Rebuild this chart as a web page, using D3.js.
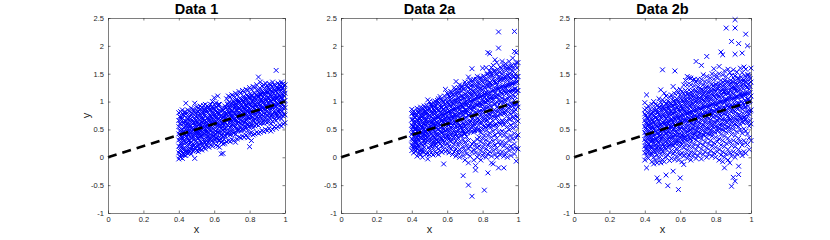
<!DOCTYPE html>
<html>
<head>
<meta charset="utf-8">
<script src="https://cdn.jsdelivr.net/npm/d3@7"></script>
<style>
  body { margin: 0; background: #fff; }
  text { font-family: "Liberation Sans", Arial, sans-serif; }
</style>
</head>
<body>
<svg id="svg" width="830" height="240"></svg>
<script>
// panel titles
const TITLES = ['Data 1', 'Data 2a', 'Data 2b']

// tick labels
const X_TICKS = [0, 0.2, 0.4, 0.6, 0.8, 1]
const Y_TICKS = [-1, -0.5, 0, 0.5, 1, 1.5, 2, 2.5]

// reference line y = x
const LINE_X = [0, 1]
const LINE_Y = [0, 1]

// scatter values, one row per x: [x, [y, y, ...]]
const data1 = [
  [0.40, [-0.03, 0.08, 0.2, 0.31, 0.42, 0.55, 0.66, 0.8]],
  [0.41, [0.0, 0.14, 0.25, 0.37, 0.48, 0.6, 0.72, 0.82]],
  [0.42, [-0.02, 0.1, 0.22, 0.35, 0.45, 0.51, 0.7, 0.85]],
  [0.43, [0.04, 0.17, 0.29, 0.4, 0.53, 0.62, 0.75, 0.8]],
  [0.44, [0.03, 0.12, 0.26, 0.38, 0.5, 0.64, 0.78, 0.97]],
  [0.45, [0.07, 0.19, 0.33, 0.44, 0.56, 0.69, 0.85]],
  [0.46, [0.08, 0.23, 0.3, 0.47, 0.58, 0.71, 0.83]],
  [0.47, [0.06, 0.15, 0.28, 0.41, 0.52, 0.63, 0.76, 0.88]],
  [0.48, [0.11, 0.24, 0.36, 0.49, 0.6, 0.73, 0.86]],
  [0.49, [-0.02, 0.18, 0.32, 0.43, 0.57, 0.68, 0.8, 0.97]],
  [0.50, [0.12, 0.26, 0.39, 0.5, 0.62, 0.74, 0.9]],
  [0.51, [0.1, 0.21, 0.34, 0.46, 0.59, 0.7, 0.82, 0.88]],
  [0.52, [0.16, 0.3, 0.42, 0.54, 0.66, 0.78, 0.92]],
  [0.53, [0.13, 0.25, 0.37, 0.51, 0.63, 0.72, 0.84, 0.9]],
  [0.54, [0.18, 0.32, 0.45, 0.56, 0.69, 0.8, 0.93]],
  [0.55, [0.15, 0.27, 0.4, 0.52, 0.61, 0.75, 0.87, 0.95]],
  [0.56, [0.2, 0.35, 0.47, 0.58, 0.7, 0.83, 0.92]],
  [0.57, [0.18, 0.29, 0.43, 0.55, 0.65, 0.77, 0.9]],
  [0.58, [0.22, 0.36, 0.49, 0.6, 0.73, 0.85, 0.95]],
  [0.59, [0.2, 0.31, 0.44, 0.57, 0.67, 0.8, 0.91, 1.0]],
  [0.60, [0.25, 0.38, 0.5, 0.63, 0.74, 0.86, 1.07]],
  [0.61, [0.22, 0.34, 0.47, 0.59, 0.71, 0.83, 0.98]],
  [0.62, [0.2, 0.33, 0.45, 0.56, 0.69, 0.82, 0.93, 1.1]],
  [0.63, [0.18, 0.3, 0.43, 0.55, 0.66, 0.78, 0.95]],
  [0.64, [0.06, 0.27, 0.4, 0.52, 0.63, 0.75, 0.88]],
  [0.65, [0.07, 0.24, 0.37, 0.49, 0.6, 0.72, 0.85]],
  [0.66, [0.25, 0.39, 0.51, 0.62, 0.74, 0.92]],
  [0.67, [0.28, 0.42, 0.54, 0.67, 0.78, 0.9, 1.05]],
  [0.68, [0.3, 0.44, 0.57, 0.69, 0.81, 0.96, 1.1]],
  [0.69, [0.28, 0.4, 0.53, 0.65, 0.77, 0.88, 1.08]],
  [0.70, [0.32, 0.46, 0.59, 0.71, 0.83, 0.97, 1.12]],
  [0.71, [0.3, 0.43, 0.56, 0.68, 0.8, 0.93, 1.1]],
  [0.72, [0.27, 0.41, 0.55, 0.66, 0.79, 0.91, 1.02, 1.15]],
  [0.73, [0.33, 0.48, 0.61, 0.73, 0.85, 0.98, 1.12]],
  [0.74, [0.36, 0.5, 0.63, 0.75, 0.88, 1.01, 1.18]],
  [0.75, [0.35, 0.47, 0.6, 0.72, 0.84, 0.95, 1.15]],
  [0.76, [0.38, 0.52, 0.65, 0.77, 0.9, 1.04, 1.2]],
  [0.77, [0.36, 0.49, 0.62, 0.74, 0.86, 0.99, 1.17]],
  [0.78, [0.4, 0.54, 0.67, 0.79, 0.92, 1.06, 1.22]],
  [0.79, [0.35, 0.48, 0.6, 0.73, 0.85, 0.97, 1.09, 1.2]],
  [0.80, [0.19, 0.42, 0.56, 0.69, 0.81, 0.94, 1.08, 1.25]],
  [0.81, [0.3, 0.45, 0.58, 0.71, 0.83, 0.96, 1.1, 1.22]],
  [0.82, [0.4, 0.53, 0.66, 0.78, 0.9, 1.03, 1.27]],
  [0.83, [0.42, 0.56, 0.69, 0.8, 0.93, 1.07, 1.25]],
  [0.84, [0.45, 0.59, 0.72, 0.85, 0.98, 1.12, 1.3]],
  [0.85, [0.43, 0.57, 0.7, 0.82, 0.95, 1.09, 1.22, 1.44]],
  [0.86, [0.45, 0.6, 0.74, 0.87, 1.0, 1.14, 1.35]],
  [0.87, [0.48, 0.62, 0.76, 0.88, 1.01, 1.15, 1.28]],
  [0.88, [0.46, 0.61, 0.73, 0.86, 0.99, 1.12, 1.3]],
  [0.89, [0.5, 0.64, 0.78, 0.91, 1.04, 1.18, 1.33]],
  [0.90, [0.48, 0.62, 0.75, 0.89, 1.02, 1.16, 1.28]],
  [0.91, [0.52, 0.66, 0.8, 0.93, 1.06, 1.2, 1.32]],
  [0.92, [0.47, 0.6, 0.74, 0.87, 1.0, 1.13, 1.3]],
  [0.93, [0.5, 0.64, 0.77, 0.9, 1.04, 1.17, 1.35]],
  [0.94, [0.55, 0.68, 0.81, 0.95, 1.08, 1.21, 1.3]],
  [0.95, [0.52, 0.66, 0.79, 0.92, 1.05, 1.19, 1.56]],
  [0.96, [0.55, 0.7, 0.83, 0.96, 1.09, 1.22, 1.33]],
  [0.97, [0.58, 0.72, 0.85, 0.98, 1.1, 1.23, 1.3]],
  [0.98, [0.56, 0.69, 0.82, 0.95, 1.07, 1.2, 1.35]],
  [0.99, [0.6, 0.74, 0.88, 1.0, 1.13, 1.25, 1.32]],
  [1.00, [0.62, 0.76, 0.89, 1.02, 1.15, 1.3]]
]

// more Data 1 points, read between the columns above
const fill1 = [
  [0.405, [0.35, 0.12, 0.6, 0.47, 0.02, 0.73]],
  [0.415, [0.5, 0.27, 0.68, 0.05, 0.39, 0.19]],
  [0.425, [0.44, 0.61, 0.15, 0.33, 0.76, 0.07]],
  [0.435, [0.28, 0.55, 0.1, 0.66, 0.42, 0.82]],
  [0.445, [0.6, 0.21, 0.47, 0.36, 0.09, 0.71]],
  [0.455, [0.3, 0.52, 0.14, 0.77, 0.41, 0.63]],
  [0.465, [0.45, 0.25, 0.69, 0.11, 0.57, 0.36]],
  [0.475, [0.53, 0.34, 0.79, 0.18, 0.46, 0.67]],
  [0.485, [0.4, 0.62, 0.22, 0.84, 0.51, 0.13]],
  [0.495, [0.58, 0.29, 0.47, 0.73, 0.16, 0.66]],
  [0.505, [0.43, 0.65, 0.2, 0.55, 0.82, 0.34]],
  [0.515, [0.6, 0.37, 0.75, 0.23, 0.49, 0.15]],
  [0.525, [0.47, 0.7, 0.28, 0.58, 0.86, 0.38]],
  [0.535, [0.62, 0.4, 0.78, 0.21, 0.53, 0.69]],
  [0.545, [0.5, 0.27, 0.66, 0.84, 0.43, 0.59]],
  [0.555, [0.64, 0.45, 0.81, 0.3, 0.56, 0.22]],
  [0.565, [0.52, 0.71, 0.38, 0.88, 0.6, 0.27]],
  [0.575, [0.67, 0.48, 0.84, 0.33, 0.58, 0.75]],
  [0.585, [0.55, 0.73, 0.4, 0.9, 0.63, 0.29]],
  [0.595, [0.7, 0.51, 0.87, 0.37, 0.6, 0.79]],
  [0.605, [0.58, 0.77, 0.42, 0.93, 0.66, 0.31]],
  [0.615, [0.72, 0.5, 0.89, 0.36, 0.62, 0.8]],
  [0.625, [0.6, 0.79, 0.44, 0.95, 0.68, 0.3]],
  [0.635, [0.65, 0.47, 0.83, 0.34, 0.56, 0.74]],
  [0.645, [0.55, 0.71, 0.4, 0.86, 0.62, 0.28]],
  [0.655, [0.63, 0.46, 0.8, 0.32, 0.57, 0.72]],
  [0.665, [0.7, 0.52, 0.88, 0.38, 0.62, 0.79]],
  [0.675, [0.76, 0.58, 0.95, 0.43, 0.67, 0.86]],
  [0.685, [0.8, 0.62, 0.99, 0.47, 0.71, 0.89]],
  [0.695, [0.74, 0.56, 0.93, 0.41, 0.66, 0.84]],
  [0.705, [0.82, 0.64, 1.01, 0.5, 0.74, 0.91]],
  [0.715, [0.78, 0.6, 0.97, 0.45, 0.69, 0.88]],
  [0.725, [0.85, 0.67, 1.04, 0.52, 0.76, 0.94]],
  [0.735, [0.8, 0.63, 0.99, 0.48, 0.71, 0.9]],
  [0.745, [0.88, 0.7, 1.06, 0.55, 0.79, 0.97]],
  [0.755, [0.83, 0.65, 1.02, 0.5, 0.74, 0.93]],
  [0.765, [0.9, 0.72, 1.09, 0.58, 0.81, 1.0]],
  [0.775, [0.86, 0.68, 1.05, 0.53, 0.77, 0.95]],
  [0.785, [0.93, 0.75, 1.12, 0.6, 0.84, 1.02]],
  [0.795, [0.88, 0.7, 1.07, 0.55, 0.79, 0.98]],
  [0.805, [0.95, 0.77, 1.14, 0.62, 0.86, 1.05]],
  [0.815, [0.9, 0.72, 1.1, 0.57, 0.81, 1.0]],
  [0.825, [0.97, 0.8, 1.16, 0.65, 0.88, 1.07]],
  [0.835, [0.93, 0.75, 1.12, 0.6, 0.84, 1.03]],
  [0.845, [1.0, 0.82, 1.19, 0.67, 0.91, 1.1]],
  [0.855, [0.96, 0.78, 1.15, 0.63, 0.87, 1.06]],
  [0.865, [1.03, 0.85, 1.22, 0.7, 0.94, 1.12]],
  [0.875, [0.98, 0.8, 1.17, 0.65, 0.89, 1.08]],
  [0.885, [1.05, 0.87, 1.24, 0.72, 0.96, 1.15]],
  [0.895, [1.0, 0.82, 1.19, 0.67, 0.91, 1.1]],
  [0.905, [1.07, 0.89, 1.26, 0.74, 0.98, 1.17]],
  [0.915, [1.02, 0.84, 1.21, 0.7, 0.93, 1.12]],
  [0.925, [1.09, 0.91, 1.27, 0.77, 1.0, 1.19]],
  [0.935, [1.04, 0.86, 1.23, 0.72, 0.95, 1.14]],
  [0.945, [1.11, 0.93, 1.29, 0.79, 1.02, 1.2]],
  [0.955, [1.06, 0.88, 1.25, 0.74, 0.97, 1.16]],
  [0.965, [1.12, 0.95, 1.3, 0.81, 1.04, 1.22]],
  [0.975, [1.08, 0.9, 1.27, 0.76, 0.99, 1.18]],
  [0.985, [1.14, 0.96, 1.31, 0.83, 1.05, 1.23]],
  [0.995, [1.1, 0.92, 1.28, 0.78, 1.01, 1.2]]
]

const data2a = [
  [0.40, [0.12, 0.22, 0.33, 0.41, 0.5, 0.58, 0.67, 0.78, 0.86]],
  [0.41, [0.08, 0.18, 0.28, 0.38, 0.46, 0.55, 0.63, 0.74, 0.83]],
  [0.42, [0.1, 0.2, 0.31, 0.43, 0.52, 0.6, 0.71, 0.8]],
  [0.43, [0.02, 0.15, 0.25, 0.36, 0.47, 0.57, 0.68, 0.77, 0.88]],
  [0.44, [0.07, 0.19, 0.3, 0.4, 0.49, 0.59, 0.7, 0.82]],
  [0.45, [0.05, 0.13, 0.26, 0.37, 0.45, 0.55, 0.66, 0.75, 0.9]],
  [0.46, [0.0, 0.1, 0.22, 0.34, 0.44, 0.53, 0.62, 0.73, 0.85]],
  [0.47, [0.09, 0.18, 0.29, 0.42, 0.51, 0.6, 0.69, 0.8, 0.92]],
  [0.48, [0.06, 0.28, 0.38, 0.47, 0.57, 0.67, 0.78, 0.88]],
  [0.49, [-0.03, 0.07, 0.3, 0.41, 0.5, 0.61, 0.72, 0.84, 1.03]],
  [0.50, [0.05, 0.14, 0.33, 0.45, 0.54, 0.64, 0.75, 0.87, 1.0]],
  [0.51, [0.08, 0.2, 0.31, 0.42, 0.52, 0.62, 0.73, 0.83, 0.95]],
  [0.52, [0.04, 0.16, 0.27, 0.39, 0.5, 0.6, 0.7, 0.81, 0.93]],
  [0.53, [0.1, 0.22, 0.35, 0.46, 0.56, 0.66, 0.78, 0.9, 1.01]],
  [0.54, [0.07, 0.18, 0.3, 0.41, 0.53, 0.63, 0.74, 0.86, 0.97]],
  [0.55, [0.05, 0.15, 0.28, 0.4, 0.5, 0.61, 0.72, 0.85, 1.05]],
  [0.56, [0.12, 0.24, 0.36, 0.47, 0.58, 0.69, 0.8, 0.92, 1.09]],
  [0.57, [0.09, 0.2, 0.33, 0.44, 0.55, 0.67, 0.79, 0.9, 1.02]],
  [0.58, [-0.12, 0.14, 0.27, 0.39, 0.5, 0.62, 0.74, 0.86, 0.99]],
  [0.59, [0.1, 0.22, 0.35, 0.48, 0.6, 0.71, 0.83, 0.96, 1.22]],
  [0.60, [0.13, 0.25, 0.38, 0.5, 0.62, 0.75, 0.88, 1.0, 1.15]],
  [0.61, [0.08, 0.2, 0.33, 0.46, 0.58, 0.7, 0.83, 0.95, 1.1]],
  [0.62, [0.15, 0.28, 0.4, 0.53, 0.65, 0.78, 0.9, 1.04, 1.18]],
  [0.63, [0.05, 0.18, 0.31, 0.44, 0.57, 0.69, 0.82, 0.96, 1.12]],
  [0.64, [0.1, 0.24, 0.37, 0.5, 0.62, 0.76, 0.89, 1.02, 1.25]],
  [0.65, [0.02, 0.15, 0.29, 0.42, 0.56, 0.7, 0.84, 0.98, 1.13, 1.36]],
  [0.66, [0.08, 0.22, 0.35, 0.49, 0.63, 0.77, 0.91, 1.06, 1.2]],
  [0.67, [0.0, 0.14, 0.28, 0.43, 0.57, 0.71, 0.86, 1.0, 1.15, 1.3]],
  [0.68, [0.1, 0.25, 0.39, 0.53, 0.67, 0.81, 0.95, 1.1, 1.25]],
  [0.69, [-0.33, 0.03, 0.18, 0.32, 0.47, 0.61, 0.76, 0.9, 1.05, 1.22]],
  [0.70, [-0.05, 0.12, 0.27, 0.42, 0.56, 0.7, 0.85, 0.99, 1.14, 1.35]],
  [0.71, [0.06, 0.21, 0.37, 0.5, 0.64, 0.8, 0.94, 1.08, 1.28]],
  [0.72, [-0.5, -0.1, 0.15, 0.3, 0.47, 0.6, 0.75, 0.89, 1.03, 1.18, 1.44]],
  [0.73, [0.02, 0.19, 0.5, 0.63, 0.78, 0.92, 1.07, 1.22, 1.38]],
  [0.74, [-0.7, 0.1, 0.24, 0.55, 0.69, 0.84, 0.98, 1.13, 1.3, 1.59]],
  [0.75, [-0.05, 0.14, 0.28, 0.45, 0.6, 0.74, 0.89, 1.04, 1.2, 1.4]],
  [0.76, [-0.15, -0.23, 0.08, 0.22, 0.52, 0.66, 0.81, 0.96, 1.12, 1.28]],
  [0.77, [0.0, 0.17, 0.32, 0.48, 0.63, 0.78, 0.94, 1.1, 1.26, 1.45]],
  [0.78, [0.05, 0.2, 0.36, 0.51, 0.67, 0.82, 0.98, 1.14, 1.32]],
  [0.79, [-0.05, 0.12, 0.28, 0.44, 0.6, 0.76, 0.92, 1.08, 1.24, 1.42]],
  [0.80, [0.03, 0.18, 0.34, 0.5, 0.66, 0.82, 0.99, 1.16, 1.34, 1.6]],
  [0.81, [-0.59, 0.08, 0.24, 0.4, 0.57, 0.73, 0.9, 1.07, 1.25, 1.45]],
  [0.82, [0.0, 0.15, 0.31, 0.48, 0.65, 0.82, 0.99, 1.17, 1.36, 1.61]],
  [0.83, [-0.28, 0.06, 0.22, 0.39, 0.56, 0.73, 0.9, 1.08, 1.27, 1.5, 1.88]],
  [0.84, [0.1, 0.27, 0.44, 0.61, 0.79, 0.97, 1.15, 1.34, 1.55, 1.86]],
  [0.85, [-0.1, 0.02, 0.19, 0.36, 0.54, 0.72, 0.9, 1.09, 1.28, 1.48, 1.61]],
  [0.86, [-0.12, 0.12, 0.29, 0.47, 0.65, 0.83, 1.02, 1.21, 1.41, 1.65]],
  [0.87, [0.05, 0.22, 0.4, 0.58, 0.77, 0.96, 1.15, 1.35, 1.56, 1.75]],
  [0.88, [0.0, 0.16, 0.34, 0.52, 0.71, 0.9, 1.09, 1.29, 1.5, 1.7]],
  [0.89, [-0.19, 0.09, 0.27, 0.45, 0.64, 0.83, 1.03, 1.23, 1.44, 1.96, 2.25]],
  [0.90, [0.04, 0.22, 0.4, 0.59, 0.78, 0.98, 1.18, 1.39, 1.62]],
  [0.91, [0.1, 0.28, 0.47, 0.66, 0.86, 1.06, 1.27, 1.49, 1.72]],
  [0.92, [-0.19, 0.02, 0.2, 0.39, 0.58, 0.78, 0.98, 1.19, 1.41, 1.65]],
  [0.93, [0.08, 0.26, 0.45, 0.64, 0.84, 1.04, 1.25, 1.46, 1.68]],
  [0.94, [0.0, 0.17, 0.36, 0.55, 0.75, 0.95, 1.16, 1.38, 1.6]],
  [0.95, [0.12, 0.3, 0.49, 0.68, 0.88, 1.08, 1.29, 1.5, 1.72]],
  [0.96, [0.03, 0.2, 0.39, 0.58, 0.78, 0.98, 1.19, 1.41, 1.63]],
  [0.97, [0.15, 0.33, 0.52, 0.72, 0.92, 1.12, 1.33, 1.55, 1.78]],
  [0.98, [0.06, 0.24, 0.43, 0.62, 0.82, 1.02, 1.23, 1.45, 1.9, 2.26]],
  [0.99, [-0.07, 0.16, 0.35, 0.55, 0.75, 0.96, 1.17, 1.4, 1.7, 1.88]],
  [1.00, [0.15, 0.4, 0.65, 0.9, 1.2, 1.45, 1.7]]
]

const fill2a = [
  [0.405, [0.45, 0.2, 0.68, 0.31, 0.55, 0.8]],
  [0.415, [0.36, 0.6, 0.14, 0.5, 0.72, 0.27]],
  [0.425, [0.52, 0.28, 0.75, 0.41, 0.63, 0.17]],
  [0.435, [0.4, 0.65, 0.22, 0.54, 0.81, 0.33]],
  [0.445, [0.58, 0.35, 0.7, 0.12, 0.47, 0.85]],
  [0.455, [0.44, 0.67, 0.25, 0.57, 0.79, 0.36]],
  [0.465, [0.6, 0.38, 0.76, 0.15, 0.49, 0.88]],
  [0.475, [0.47, 0.7, 0.33, 0.59, 0.83, 0.24]],
  [0.485, [0.62, 0.43, 0.79, 0.5, 0.93, 0.35]],
  [0.495, [0.52, 0.74, 0.38, 0.63, 0.88, 0.18]],
  [0.505, [0.66, 0.45, 0.82, 0.28, 0.56, 0.95]],
  [0.515, [0.55, 0.77, 0.37, 0.66, 0.9, 0.22]],
  [0.525, [0.69, 0.48, 0.85, 0.3, 0.6, 0.98]],
  [0.535, [0.58, 0.8, 0.4, 0.7, 0.93, 0.25]],
  [0.545, [0.72, 0.5, 0.88, 0.33, 0.62, 1.02]],
  [0.555, [0.6, 0.83, 0.42, 0.73, 0.97, 0.27]],
  [0.565, [0.75, 0.53, 0.9, 0.35, 0.65, 1.05]],
  [0.575, [0.63, 0.86, 0.45, 0.76, 1.0, 0.3]],
  [0.585, [0.78, 0.55, 0.94, 0.38, 0.68, 1.1]],
  [0.595, [0.66, 0.9, 0.47, 0.8, 1.05, 0.32]],
  [0.605, [0.81, 0.58, 0.97, 0.4, 0.7, 1.13]],
  [0.615, [0.69, 0.93, 0.5, 0.83, 1.08, 0.34]],
  [0.625, [0.84, 0.61, 1.0, 0.43, 0.73, 1.17]],
  [0.635, [0.72, 0.96, 0.52, 0.86, 1.12, 0.36]],
  [0.645, [0.87, 0.63, 1.04, 0.45, 0.76, 1.21]],
  [0.655, [0.75, 1.0, 0.55, 0.89, 1.15, 0.38]],
  [0.665, [0.9, 0.66, 1.07, 0.48, 0.79, 1.25]],
  [0.675, [0.78, 1.03, 0.57, 0.92, 1.19, 0.4]],
  [0.685, [0.93, 0.69, 1.1, 0.5, 0.82, 1.28]],
  [0.695, [0.81, 1.06, 0.6, 0.95, 1.22, 0.42]],
  [0.705, [0.96, 0.72, 1.13, 0.52, 0.85, 1.31]],
  [0.715, [0.84, 1.09, 0.62, 0.98, 1.25, 0.44]],
  [0.725, [0.99, 0.74, 1.16, 0.55, 0.88, 1.34]],
  [0.735, [0.87, 1.12, 0.65, 1.01, 1.28, 0.46]],
  [0.745, [1.02, 0.77, 1.19, 0.57, 0.91, 1.37]],
  [0.755, [0.9, 1.15, 0.67, 1.04, 1.31, 0.48]],
  [0.765, [1.05, 0.8, 1.22, 0.6, 0.94, 1.4]],
  [0.775, [0.93, 1.18, 0.7, 1.07, 1.34, 0.5]],
  [0.785, [1.08, 0.83, 1.25, 0.62, 0.97, 1.43]],
  [0.795, [0.96, 1.21, 0.72, 1.1, 1.37, 0.52]],
  [0.805, [1.11, 0.86, 1.28, 0.65, 1.0, 1.46]],
  [0.815, [0.99, 1.24, 0.75, 1.13, 1.4, 0.54]],
  [0.825, [1.14, 0.89, 1.31, 0.67, 1.03, 1.49]],
  [0.835, [1.02, 1.27, 0.78, 1.16, 1.43, 0.56]],
  [0.845, [1.17, 0.92, 1.34, 0.7, 1.06, 1.52]],
  [0.855, [1.05, 1.3, 0.8, 1.19, 1.46, 0.58]],
  [0.865, [1.2, 0.95, 1.37, 0.72, 1.09, 1.55]],
  [0.875, [1.08, 1.33, 0.83, 1.22, 1.49, 0.6]],
  [0.885, [1.23, 0.98, 1.4, 0.75, 1.12, 1.58]],
  [0.895, [1.1, 1.36, 0.86, 1.25, 1.52, 0.62]],
  [0.905, [1.26, 1.0, 1.43, 0.77, 1.15, 1.6]],
  [0.915, [1.13, 1.38, 0.88, 1.27, 1.54, 0.64]],
  [0.925, [1.28, 1.03, 1.45, 0.8, 1.17, 1.62]],
  [0.935, [1.15, 1.4, 0.9, 1.29, 1.56, 0.66]],
  [0.945, [1.3, 1.05, 1.47, 0.82, 1.19, 1.63]],
  [0.955, [1.17, 1.42, 0.92, 1.31, 1.58, 0.68]],
  [0.965, [1.32, 1.07, 1.49, 0.84, 1.21, 1.65]],
  [0.975, [1.19, 1.44, 0.94, 1.33, 1.6, 0.7]],
  [0.985, [1.34, 1.09, 1.5, 0.86, 1.23, 1.66]],
  [0.995, [1.2, 1.45, 0.96, 1.35, 1.6, 0.72]]
]

const data2b = [
  [0.40, [-0.05, 0.08, 0.2, 0.32, 0.44, 0.55, 0.66, 0.78, 0.85, 0.98]],
  [0.41, [-0.19, 0.02, 0.15, 0.27, 0.39, 0.5, 0.61, 0.72, 0.88, 1.12]],
  [0.42, [-0.02, 0.1, 0.23, 0.35, 0.46, 0.58, 0.69, 0.8, 0.92]],
  [0.43, [0.05, 0.18, 0.3, 0.41, 0.53, 0.64, 0.75, 0.86]],
  [0.44, [-0.08, 0.06, 0.19, 0.31, 0.43, 0.55, 0.67, 0.79, 0.95]],
  [0.45, [-0.12, 0.0, 0.13, 0.26, 0.38, 0.5, 0.62, 0.74, 0.87, 1.0]],
  [0.46, [-0.05, 0.09, 0.22, 0.34, 0.47, 0.59, 0.71, 0.83, 0.95]],
  [0.47, [-0.37, -0.1, 0.04, 0.17, 0.3, 0.43, 0.56, 0.69, 0.82, 0.93]],
  [0.48, [-0.43, -0.02, 0.12, 0.25, 0.38, 0.51, 0.64, 0.77, 0.9, 1.05]],
  [0.49, [-0.1, 0.05, 0.18, 0.32, 0.45, 0.58, 0.71, 0.84, 0.98, 1.21]],
  [0.50, [-0.04, 0.1, 0.24, 0.37, 0.5, 0.63, 0.76, 0.9, 1.03, 1.57]],
  [0.51, [-0.08, 0.07, 0.2, 0.34, 0.47, 0.6, 0.74, 0.87, 1.0, 1.15]],
  [0.52, [-0.32, 0.0, 0.14, 0.28, 0.42, 0.55, 0.69, 0.82, 0.96, 1.1]],
  [0.53, [-0.51, 0.04, 0.18, 0.32, 0.46, 0.6, 0.73, 0.87, 1.01]],
  [0.54, [-0.06, 0.09, 0.23, 0.37, 0.51, 0.65, 0.79, 0.93, 1.08]],
  [0.55, [-0.02, 0.12, 0.26, 0.41, 0.55, 0.69, 0.83, 0.97, 1.12]],
  [0.56, [-0.25, 0.06, 0.2, 0.34, 0.49, 0.63, 0.78, 0.92, 1.06, 1.27]],
  [0.57, [-0.04, 0.1, 0.25, 0.4, 0.54, 0.69, 0.84, 0.98, 1.14, 1.55]],
  [0.58, [0.02, 0.16, 0.31, 0.46, 0.61, 0.76, 0.9, 1.05, 1.2]],
  [0.59, [-0.58, -0.05, 0.1, 0.25, 0.4, 0.55, 0.7, 0.86, 1.01, 1.16]],
  [0.60, [-0.37, 0.04, 0.19, 0.34, 0.5, 0.65, 0.81, 0.96, 1.12, 1.22]],
  [0.61, [-0.08, 0.08, 0.24, 0.4, 0.55, 0.71, 0.87, 1.03, 1.18]],
  [0.62, [-0.13, 0.02, 0.17, 0.33, 0.49, 0.65, 0.81, 0.97, 1.14, 1.3]],
  [0.63, [0.06, 0.22, 0.38, 0.54, 0.7, 0.87, 1.03, 1.2, 1.38]],
  [0.64, [-0.02, 0.13, 0.29, 0.46, 0.62, 0.79, 0.96, 1.13, 1.3, 1.45]],
  [0.65, [0.04, 0.2, 0.36, 0.53, 0.7, 0.87, 1.04, 1.21, 1.43]],
  [0.66, [-0.05, 0.1, 0.27, 0.44, 0.61, 0.78, 0.95, 1.12, 1.3, 1.42]],
  [0.67, [0.02, 0.18, 0.35, 0.52, 0.69, 0.86, 1.03, 1.2, 1.38]],
  [0.68, [0.07, 0.24, 0.41, 0.58, 0.75, 0.92, 1.1, 1.28, 1.4]],
  [0.69, [-0.02, 0.14, 0.31, 0.48, 0.65, 0.83, 1.01, 1.19, 1.35, 1.72]],
  [0.70, [0.03, 0.2, 0.37, 0.55, 0.72, 0.9, 1.08, 1.26, 1.4]],
  [0.71, [0.08, 0.26, 0.43, 0.61, 0.79, 0.97, 1.15, 1.33]],
  [0.72, [-0.03, 0.15, 0.33, 0.5, 0.68, 0.86, 1.04, 1.22, 1.4, 1.65]],
  [0.73, [0.05, 0.22, 0.4, 0.58, 0.76, 0.94, 1.12, 1.3, 1.48]],
  [0.74, [0.1, 0.28, 0.46, 0.64, 0.82, 1.0, 1.18, 1.36]],
  [0.75, [0.0, 0.17, 0.35, 0.53, 0.72, 0.9, 1.08, 1.27, 1.45, 1.81]],
  [0.76, [0.06, 0.24, 0.42, 0.61, 0.79, 0.98, 1.16, 1.35]],
  [0.77, [0.12, 0.3, 0.48, 0.67, 0.86, 1.04, 1.23, 1.42]],
  [0.78, [0.02, 0.2, 0.38, 0.57, 0.76, 0.95, 1.13, 1.32, 1.5]],
  [0.79, [0.08, 0.26, 0.45, 0.64, 0.83, 1.02, 1.21, 1.4, 1.59]],
  [0.80, [0.0, 0.18, 0.36, 0.55, 0.74, 0.93, 1.12, 1.31, 1.48]],
  [0.81, [0.1, 0.28, 0.47, 0.66, 0.85, 1.04, 1.23, 1.42]],
  [0.82, [-0.05, 0.14, 0.33, 0.52, 0.71, 0.9, 1.1, 1.29, 1.5, 1.63]],
  [0.83, [0.04, 0.22, 0.41, 0.6, 0.8, 0.99, 1.19, 1.38, 1.89]],
  [0.84, [-0.08, 0.1, 0.3, 0.49, 0.69, 0.88, 1.08, 1.28, 1.48, 1.84]],
  [0.85, [-0.19, 0.0, 0.19, 0.38, 0.58, 0.78, 0.98, 1.18, 1.38, 1.55]],
  [0.86, [0.06, 0.25, 0.45, 0.65, 0.85, 1.05, 1.25, 1.45, 2.32]],
  [0.87, [-0.05, 0.14, 0.34, 0.54, 0.74, 0.95, 1.15, 1.36, 1.58]],
  [0.88, [-0.1, 0.08, 0.28, 0.48, 0.68, 0.89, 1.1, 1.31, 1.52]],
  [0.89, [-0.52, 0.02, 0.21, 0.41, 0.62, 0.83, 1.04, 1.25, 1.47, 2.08]],
  [0.90, [-0.36, 0.1, 0.3, 0.5, 0.71, 0.92, 1.13, 1.35, 1.57]],
  [0.91, [-0.43, 0.0, 0.19, 0.39, 0.6, 0.81, 1.02, 1.24, 1.46, 1.85, 2.32, 2.47]],
  [0.92, [0.06, 0.26, 0.46, 0.67, 0.88, 1.09, 1.31, 1.53]],
  [0.93, [-0.31, -0.16, 0.14, 0.34, 0.55, 0.76, 0.97, 1.19, 1.42, 2.04]],
  [0.94, [0.08, 0.28, 0.49, 0.7, 0.92, 1.14, 1.36, 1.6]],
  [0.95, [0.03, 0.22, 0.43, 0.64, 0.86, 1.08, 1.3, 1.52, 1.87]],
  [0.96, [0.1, 0.3, 0.51, 0.72, 0.94, 1.16, 1.39, 1.62]],
  [0.97, [0.07, 0.26, 0.47, 0.68, 0.9, 1.12, 1.35, 1.58, 2.21]],
  [0.98, [0.23, 0.42, 0.62, 0.83, 1.04, 1.26, 1.48, 2.0]],
  [0.99, [0.14, 0.35, 0.56, 0.78, 1.0, 1.22, 1.45]],
  [1.00, [0.3, 0.6, 0.85, 1.1, 1.35, 1.6]]
]

const fill2b = [
  [0.405, [0.4, 0.15, 0.62, 0.28, 0.52, 0.75]],
  [0.415, [0.33, 0.56, 0.08, 0.45, 0.7, 0.2]],
  [0.425, [0.48, 0.24, 0.66, 0.37, 0.58, 0.12]],
  [0.435, [0.36, 0.6, 0.18, 0.5, 0.77, 0.28]],
  [0.445, [0.53, 0.3, 0.68, 0.1, 0.43, 0.82]],
  [0.455, [0.4, 0.63, 0.2, 0.52, 0.75, 0.31]],
  [0.465, [0.56, 0.33, 0.72, 0.13, 0.45, 0.86]],
  [0.475, [0.43, 0.66, 0.27, 0.55, 0.8, 0.2]],
  [0.485, [0.58, 0.38, 0.75, 0.46, 0.9, 0.3]],
  [0.495, [0.47, 0.7, 0.33, 0.59, 0.85, 0.14]],
  [0.505, [0.62, 0.4, 0.78, 0.24, 0.51, 0.92]],
  [0.515, [0.5, 0.72, 0.32, 0.61, 0.86, 0.17]],
  [0.525, [0.64, 0.43, 0.8, 0.25, 0.55, 0.95]],
  [0.535, [0.52, 0.75, 0.35, 0.64, 0.89, 0.2]],
  [0.545, [0.67, 0.45, 0.83, 0.28, 0.57, 0.98]],
  [0.555, [0.55, 0.78, 0.37, 0.67, 0.92, 0.22]],
  [0.565, [0.7, 0.48, 0.86, 0.3, 0.6, 1.01]],
  [0.575, [0.57, 0.81, 0.4, 0.7, 0.95, 0.25]],
  [0.585, [0.73, 0.5, 0.89, 0.33, 0.62, 1.04]],
  [0.595, [0.6, 0.84, 0.42, 0.73, 0.98, 0.27]],
  [0.605, [0.75, 0.53, 0.92, 0.35, 0.65, 1.07]],
  [0.615, [0.63, 0.87, 0.44, 0.76, 1.01, 0.29]],
  [0.625, [0.78, 0.55, 0.95, 0.37, 0.67, 1.1]],
  [0.635, [0.66, 0.9, 0.47, 0.79, 1.04, 0.31]],
  [0.645, [0.8, 0.57, 0.98, 0.4, 0.7, 1.13]],
  [0.655, [0.68, 0.92, 0.49, 0.81, 1.06, 0.33]],
  [0.665, [0.82, 0.6, 1.0, 0.42, 0.72, 1.16]],
  [0.675, [0.7, 0.95, 0.51, 0.84, 1.09, 0.35]],
  [0.685, [0.85, 0.62, 1.02, 0.44, 0.74, 1.18]],
  [0.695, [0.72, 0.97, 0.53, 0.86, 1.11, 0.37]],
  [0.705, [0.87, 0.64, 1.04, 0.46, 0.76, 1.2]],
  [0.715, [0.74, 0.99, 0.55, 0.88, 1.13, 0.38]],
  [0.725, [0.89, 0.66, 1.06, 0.48, 0.78, 1.22]],
  [0.735, [0.76, 1.01, 0.57, 0.9, 1.15, 0.4]],
  [0.745, [0.91, 0.68, 1.08, 0.5, 0.8, 1.24]],
  [0.755, [0.78, 1.03, 0.59, 0.92, 1.17, 0.42]],
  [0.765, [0.93, 0.7, 1.1, 0.52, 0.82, 1.26]],
  [0.775, [0.8, 1.05, 0.61, 0.94, 1.19, 0.44]],
  [0.785, [0.95, 0.72, 1.12, 0.54, 0.84, 1.28]],
  [0.795, [0.82, 1.07, 0.63, 0.96, 1.21, 0.46]],
  [0.805, [0.97, 0.74, 1.14, 0.56, 0.86, 1.3]],
  [0.815, [0.84, 1.09, 0.65, 0.98, 1.23, 0.48]],
  [0.825, [0.99, 0.76, 1.16, 0.58, 0.88, 1.32]],
  [0.835, [0.86, 1.11, 0.67, 1.0, 1.25, 0.5]],
  [0.845, [1.01, 0.78, 1.18, 0.6, 0.9, 1.34]],
  [0.855, [0.88, 1.13, 0.69, 1.02, 1.27, 0.52]],
  [0.865, [1.03, 0.8, 1.2, 0.62, 0.92, 1.36]],
  [0.875, [0.9, 1.15, 0.71, 1.04, 1.29, 0.54]],
  [0.885, [1.05, 0.82, 1.22, 0.64, 0.94, 1.38]],
  [0.895, [0.92, 1.17, 0.73, 1.06, 1.31, 0.56]],
  [0.905, [1.07, 0.84, 1.24, 0.66, 0.96, 1.4]],
  [0.915, [0.94, 1.19, 0.75, 1.08, 1.33, 0.58]],
  [0.925, [1.09, 0.86, 1.26, 0.68, 0.98, 1.42]],
  [0.935, [0.96, 1.21, 0.77, 1.1, 1.35, 0.6]],
  [0.945, [1.11, 0.88, 1.28, 0.7, 1.0, 1.44]],
  [0.955, [0.98, 1.23, 0.79, 1.12, 1.37, 0.62]],
  [0.965, [1.13, 0.9, 1.3, 0.72, 1.02, 1.46]],
  [0.975, [1.0, 1.25, 0.81, 1.14, 1.39, 0.64]],
  [0.985, [1.15, 0.92, 1.32, 0.74, 1.04, 1.48]],
  [0.995, [1.02, 1.27, 0.83, 1.16, 1.41, 0.66]]
]

const PANELS = [data1.concat(fill1), data2a.concat(fill2a), data2b.concat(fill2b)]

const LEFTS = [108, 341, 574]
const PLOT_W = 177
const TOP = 18
const BOTTOM = 213
const AXIS_COLOR = '#262626'

const SVG = d3.select('#svg')

const X_MARK = 'M-2.4,-2.4L2.4,2.4M-2.4,2.4L2.4,-2.4'

PANELS.forEach((rows, p) => {
  const x = d3.scaleLinear().domain([0, 1]).range([LEFTS[p], LEFTS[p] + PLOT_W])
  const y = d3.scaleLinear().domain([-1, 2.5]).range([BOTTOM, TOP])

  const points = rows.flatMap(([xv, ys]) => ys.map(yv => [xv, yv]))

  const g = SVG.append('g')

  // scatter
  g.append('g')
    .selectAll('path')
    .data(points)
    .enter()
    .append('path')
    .attr('d', X_MARK)
    .attr('transform', d => `translate(${x(d[0])},${y(d[1])})`)
    .attr('fill', 'none')
    .attr('stroke', '#0000ff')
    .attr('stroke-width', 1)

  // dashed reference line
  const line = d3.line().x(d => x(d[0])).y(d => y(d[1]))
  g.append('path')
    .datum(LINE_X.map((v, i) => [v, LINE_Y[i]]))
    .attr('d', line)
    .attr('fill', 'none')
    .attr('stroke', '#000')
    .attr('stroke-width', 2.6)
    .attr('stroke-dasharray', '9,6')

  // axes, ticks point inward, box on all sides
  const fmt = d => String(d)
  const bottom = g.append('g')
    .attr('transform', `translate(0,${BOTTOM})`)
    .call(d3.axisBottom(x).tickValues(X_TICKS).tickFormat(fmt).tickSizeInner(-2.5).tickSizeOuter(0).tickPadding(4))
  const left = g.append('g')
    .attr('transform', `translate(${LEFTS[p]},0)`)
    .call(d3.axisLeft(y).tickValues(Y_TICKS).tickFormat(fmt).tickSizeInner(-2.5).tickSizeOuter(0).tickPadding(4))
  const top = g.append('g')
    .attr('transform', `translate(0,${TOP})`)
    .call(d3.axisTop(x).tickValues(X_TICKS).tickFormat('').tickSizeInner(-2.5).tickSizeOuter(0))
  const right = g.append('g')
    .attr('transform', `translate(${LEFTS[p] + PLOT_W},0)`)
    .call(d3.axisRight(y).tickValues(Y_TICKS).tickFormat('').tickSizeInner(-2.5).tickSizeOuter(0))

  ;[bottom, left, top, right].forEach(ax => {
    ax.selectAll('path.domain').attr('stroke', AXIS_COLOR).attr('stroke-width', 0.6)
    ax.selectAll('line').attr('stroke', AXIS_COLOR).attr('stroke-width', 0.6)
    ax.selectAll('text')
      .attr('fill', AXIS_COLOR)
      .style('font-family', '"Liberation Sans", Arial, sans-serif')
      .style('font-size', '7.5px')
  })

  // title
  g.append('text')
    .text(TITLES[p])
    .attr('x', LEFTS[p] + PLOT_W / 2)
    .attr('y', 14)
    .attr('text-anchor', 'middle')
    .style('font-size', '14.5px')
    .style('font-weight', 'bold')
    .attr('fill', '#000')

  // x label
  g.append('text')
    .text('x')
    .attr('x', LEFTS[p] + PLOT_W / 2)
    .attr('y', 233)
    .attr('text-anchor', 'middle')
    .style('font-size', '11px')
    .attr('fill', AXIS_COLOR)

  if (p === 0) {
    g.append('text')
      .text('y')
      .attr('transform', `translate(90,${(TOP + BOTTOM) / 2}) rotate(-90)`)
      .attr('text-anchor', 'middle')
      .style('font-size', '11px')
      .attr('fill', AXIS_COLOR)
  }
})
</script>
</body>
</html>
